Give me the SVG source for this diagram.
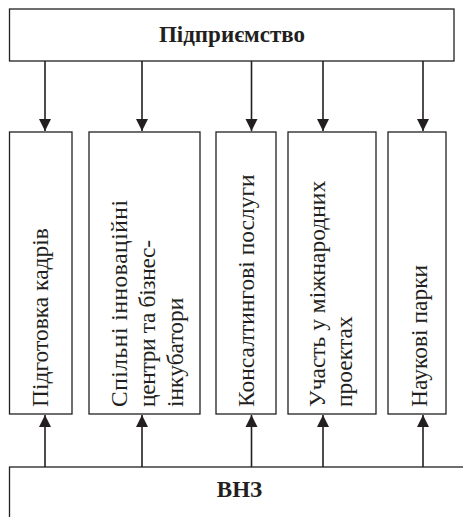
<svg xmlns="http://www.w3.org/2000/svg" width="463" height="517" viewBox="0 0 463 517">
<style>
.box{fill:#fff;stroke:#231f20;stroke-width:1.3}
.lbl{font-family:"Liberation Serif","Times New Roman",serif;font-size:23.5px;fill:#231f20}
.ttl{font-family:"Liberation Serif","Times New Roman",serif;font-size:23px;font-weight:bold;fill:#231f20;text-anchor:middle}
.con{stroke:#231f20;stroke-width:1.6;fill:none;marker-end:url(#ah)}
</style>
<defs>
<marker id="ah" markerUnits="userSpaceOnUse" markerWidth="14" markerHeight="14" viewBox="0 0 14 14" refX="12" refY="7" orient="auto">
<path d="M0,1 L12,7 L0,13 Z" fill="#231f20"/>
</marker>
</defs>
<rect width="463" height="517" fill="#fff"/>
<g id="pidpryiemstvo">
<rect class="box" x="9.5" y="9" width="444.5" height="52"/>
<text class="ttl" x="232" y="42">Підприємство</text>
</g>
<g id="vnz">
<rect class="box" x="9.5" y="467" width="470" height="70"/>
<text class="ttl" x="239.5" y="497">ВНЗ</text>
</g>
<g id="pidgotovka">
<rect class="box" x="9.5" y="132" width="62.5" height="282"/>
<text class="lbl" transform="translate(48,407) rotate(-90)">Підготовка кадрів</text>
</g>
<g id="spilni">
<rect class="box" x="89" y="132" width="111" height="282"/>
<text class="lbl" transform="translate(127,407) rotate(-90)">
<tspan x="0" y="0" textLength="207" lengthAdjust="spacing">Спільні  інноваційні</tspan>
<tspan x="0" y="28" textLength="167" lengthAdjust="spacing">центри та бізнес-</tspan>
<tspan x="0" y="56">інкубатори</tspan>
</text>
</g>
<g id="konsalting">
<rect class="box" x="216" y="132" width="60" height="282"/>
<text class="lbl" transform="translate(254,407) rotate(-90)">Консалтингові послуги</text>
</g>
<g id="uchast">
<rect class="box" x="288" y="132" width="88" height="282"/>
<text class="lbl" transform="translate(325,407) rotate(-90)">
<tspan x="0" y="0">Участь у міжнародних</tspan>
<tspan x="0" y="27">проектах</tspan>
</text>
</g>
<g id="parky">
<rect class="box" x="388" y="132" width="58" height="282"/>
<text class="lbl" transform="translate(427,407) rotate(-90)">Наукові парки</text>
</g>
<g id="connectors">
<line class="con" x1="45" y1="61" x2="45" y2="131"/>
<line class="con" x1="142" y1="61" x2="142" y2="131"/>
<line class="con" x1="251.5" y1="61" x2="251.5" y2="131"/>
<line class="con" x1="323" y1="61" x2="323" y2="131"/>
<line class="con" x1="423" y1="61" x2="423" y2="131"/>
<line class="con" x1="45" y1="467" x2="45" y2="415"/>
<line class="con" x1="142" y1="467" x2="142" y2="415"/>
<line class="con" x1="251.5" y1="467" x2="251.5" y2="415"/>
<line class="con" x1="323" y1="467" x2="323" y2="415"/>
<line class="con" x1="423" y1="467" x2="423" y2="415"/>
</g>
</svg>
